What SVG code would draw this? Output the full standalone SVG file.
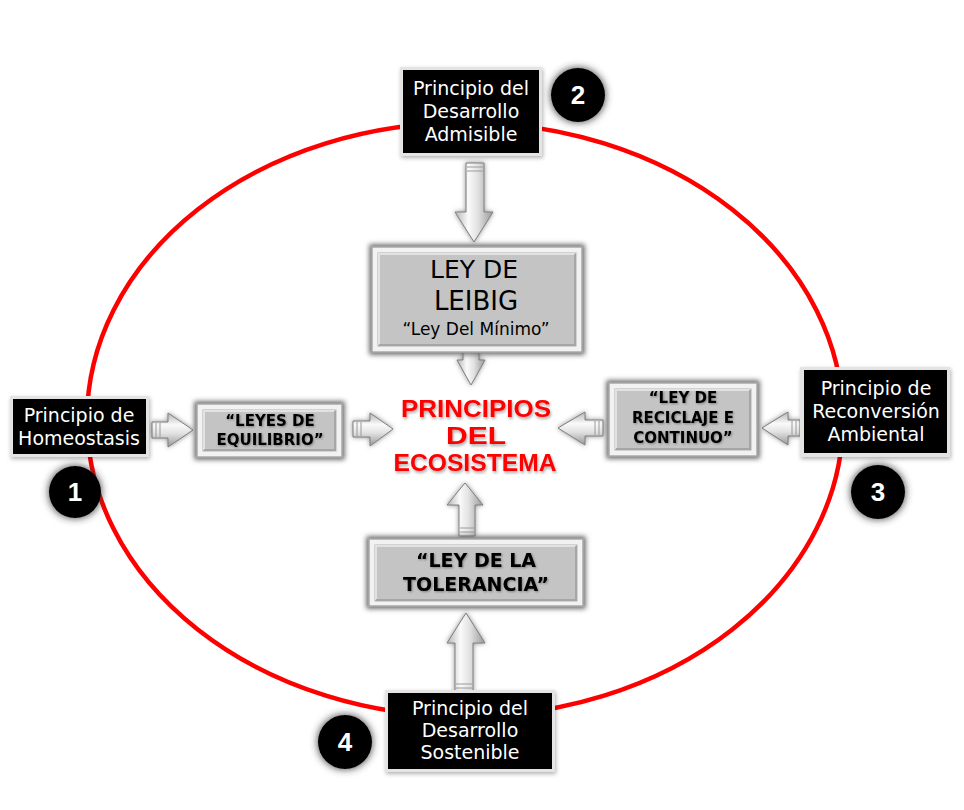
<svg xmlns="http://www.w3.org/2000/svg" width="964" height="810" viewBox="0 0 964 810">
<defs>
<style>
.bframe{fill:#e4e4e4;filter:url(#bshadow)}
.bin{fill:#000}
.wt{font-family:"DejaVu Sans",sans-serif;font-size:19px;fill:#fff;text-anchor:middle}
.gframe{fill:#f2f2f2;stroke:#a8a8a8;stroke-width:1.5;filter:url(#glow)}
.gpanel{fill:#c4c4c4;stroke:#b2b2b2;stroke-width:1}
.hl{fill:none;stroke:#e2e2e2;stroke-width:2}
.sh{fill:none;stroke:#a6a6a6;stroke-width:2}
.gt{font-family:"DejaVu Sans",sans-serif;font-weight:bold;fill:#000;text-anchor:middle;filter:url(#tshadow)}
.lt{font-family:"DejaVu Sans",sans-serif;fill:#000;text-anchor:middle}
.rt{font-family:"Liberation Sans",Arial,sans-serif;font-weight:bold;font-size:23px;fill:#ff0000;text-anchor:middle;filter:url(#rshadow)}
.num{fill:#000;filter:url(#cglow)}
.nt{font-family:"Liberation Sans",Arial,sans-serif;font-weight:bold;font-size:26px;fill:#fff;text-anchor:middle}
.av{fill:url(#gv);stroke:#808080;stroke-width:1;filter:url(#ashadow)}
.ah{fill:url(#gh);stroke:#808080;stroke-width:1;filter:url(#ashadow)}
.st{stroke:#9a9a9a;stroke-width:1}
</style>
<linearGradient id="gv" x1="0" y1="0" x2="1" y2="0">
<stop offset="0" stop-color="#b4b4b4"/><stop offset="0.35" stop-color="#fafafa"/><stop offset="0.6" stop-color="#e2e2e2"/><stop offset="1" stop-color="#989898"/>
</linearGradient>
<linearGradient id="gh" x1="0" y1="0" x2="0" y2="1">
<stop offset="0" stop-color="#b4b4b4"/><stop offset="0.35" stop-color="#fafafa"/><stop offset="0.6" stop-color="#e2e2e2"/><stop offset="1" stop-color="#989898"/>
</linearGradient>
<filter id="glow" x="-20%" y="-30%" width="140%" height="160%">
<feMorphology in="SourceAlpha" operator="dilate" radius="2" result="d"/>
<feGaussianBlur in="d" stdDeviation="2.5" result="b"/>
<feFlood flood-color="#6a6a6a"/>
<feComposite in2="b" operator="in" result="s"/>
<feMerge><feMergeNode in="s"/><feMergeNode in="SourceGraphic"/></feMerge>
</filter>
<filter id="bshadow" x="-20%" y="-20%" width="140%" height="140%">
<feDropShadow dx="1" dy="2" stdDeviation="2" flood-color="#000" flood-opacity="0.3"/>
</filter>
<filter id="cglow" x="-40%" y="-40%" width="180%" height="180%">
<feMorphology in="SourceAlpha" operator="dilate" radius="1" result="d"/>
<feGaussianBlur in="d" stdDeviation="3.5" result="b"/>
<feFlood flood-color="#333" flood-opacity="0.75"/>
<feComposite in2="b" operator="in" result="s"/>
<feMerge><feMergeNode in="s"/><feMergeNode in="SourceGraphic"/></feMerge>
</filter>
<filter id="ashadow" x="-30%" y="-30%" width="160%" height="160%">
<feGaussianBlur in="SourceAlpha" stdDeviation="2.5" result="b"/>
<feFlood flood-color="#777" flood-opacity="0.8"/>
<feComposite in2="b" operator="in" result="s"/>
<feMerge><feMergeNode in="s"/><feMergeNode in="SourceGraphic"/></feMerge>
</filter>
<filter id="rshadow" x="-10%" y="-20%" width="120%" height="150%">
<feDropShadow dx="1" dy="2" stdDeviation="1.5" flood-color="#000" flood-opacity="0.35"/>
</filter>
<filter id="tshadow" x="-10%" y="-20%" width="120%" height="150%">
<feDropShadow dx="1" dy="1" stdDeviation="0.8" flood-color="#000" flood-opacity="0.35"/>
</filter>
</defs>
<rect width="964" height="810" fill="#fff"/>

<ellipse id="cycle" cx="465" cy="419.5" rx="378" ry="297" fill="none" stroke="#ff0000" stroke-width="4.5"/>

<g id="connectors">
<path class="av" d="M466,163 H484 V212 H493 L474,242 L455,212 H466 Z"/>
<line class="st" x1="467" y1="167" x2="483" y2="167"/><line class="st" x1="467" y1="171" x2="483" y2="171"/>
<path class="av" d="M463,350 H479 V360 H485 L471,385 L457,360 H463 Z"/>
<path class="ah" d="M152,422 H168 V413 L193,430 L168,447 V438 H152 Z"/>
<line class="st" x1="156" y1="423" x2="156" y2="437"/><line class="st" x1="160" y1="423" x2="160" y2="437"/>
<path class="ah" d="M353,421 H370 V413 L393,429 L370,446 V437 H353 Z"/>
<line class="st" x1="357" y1="422" x2="357" y2="436"/><line class="st" x1="361" y1="422" x2="361" y2="436"/>
<path class="ah" d="M800,420 H788 V412 L762,428 L788,445 V436 H800 Z"/>
<line class="st" x1="796" y1="421" x2="796" y2="435"/><line class="st" x1="792" y1="421" x2="792" y2="435"/>
<path class="ah" d="M603,420 H585 V412 L558,428 L585,445 V436 H603 Z"/>
<line class="st" x1="599" y1="421" x2="599" y2="435"/><line class="st" x1="595" y1="421" x2="595" y2="435"/>
<path class="av" d="M459,536 V505 H447 L465,483 L483,505 H475 V536 Z"/>
<line class="st" x1="460" y1="532" x2="474" y2="532"/><line class="st" x1="460" y1="528" x2="474" y2="528"/>
<path class="av" d="M455,692 V643 H447 L466,613 L485,643 H473 V692 Z"/>
<line class="st" x1="456" y1="688" x2="472" y2="688"/><line class="st" x1="456" y1="684" x2="472" y2="684"/>
</g>

<g id="p2">
<rect class="bframe" x="400" y="67" width="142" height="89"/>
<rect class="bin" x="403" y="70" width="136" height="83"/>
<text class="wt" x="471" y="95">Principio del</text>
<text class="wt" x="471" y="118">Desarrollo</text>
<text class="wt" x="471" y="141">Admisible</text>
</g>
<g id="p1">
<rect class="bframe" x="10" y="396" width="139" height="61"/>
<rect class="bin" x="13" y="399" width="133" height="55"/>
<text class="wt" x="79" y="422">Principio de</text>
<text class="wt" x="79" y="445">Homeostasis</text>
</g>
<g id="p3">
<rect class="bframe" x="800" y="367" width="150" height="90"/>
<rect class="bin" x="804" y="370" width="143" height="83"/>
<text class="wt" x="876" y="395" font-size="18">Principio de</text>
<text class="wt" x="876" y="418" font-size="18">Reconversión</text>
<text class="wt" x="876" y="441" font-size="18">Ambiental</text>
</g>
<g id="p4">
<rect class="bframe" x="385" y="690" width="170" height="82"/>
<rect class="bin" x="388" y="693" width="164" height="76"/>
<text class="wt" x="470" y="715">Principio del</text>
<text class="wt" x="470" y="737">Desarrollo</text>
<text class="wt" x="470" y="759">Sostenible</text>
</g>

<g id="leibig">
<rect class="gframe" x="372" y="247" width="210" height="105"/>
<rect class="gpanel" x="378" y="253" width="198" height="93"/>
<polyline class="hl" points="379,345 379,254 575,254"/>
<polyline class="sh" points="379,345 575,345 575,254"/>
<text class="lt" x="474" y="278" font-size="25">LEY DE</text>
<text class="lt" x="476" y="310" font-size="26">LEIBIG</text>
<text class="lt" x="476" y="335" font-size="17">“Ley Del Mínimo”</text>
</g>
<g id="equilibrio">
<rect class="gframe" x="197" y="404" width="145" height="53"/>
<rect class="gpanel" x="203" y="410" width="133" height="41"/>
<polyline class="hl" points="204,450 204,411 335,411"/>
<polyline class="sh" points="204,450 335,450 335,411"/>
<text class="gt" x="270" y="426" font-size="15">“LEYES DE</text>
<text class="gt" x="270" y="445" font-size="15">EQUILIBRIO”</text>
</g>
<g id="reciclaje">
<rect class="gframe" x="609" y="383" width="148" height="73"/>
<rect class="gpanel" x="615" y="389" width="136" height="61"/>
<polyline class="hl" points="616,449 616,390 750,390"/>
<polyline class="sh" points="616,449 750,449 750,390"/>
<text class="gt" x="683" y="403" font-size="15">“LEY DE</text>
<text class="gt" x="683" y="423" font-size="15">RECICLAJE E</text>
<text class="gt" x="683" y="443" font-size="15">CONTINUO”</text>
</g>
<g id="tolerancia">
<rect class="gframe" x="369" y="539" width="214" height="67"/>
<rect class="gpanel" x="375" y="545" width="202" height="56"/>
<polyline class="hl" points="376,600 376,546 576,546"/>
<polyline class="sh" points="376,600 576,600 576,546"/>
<text class="gt" x="476" y="567" font-size="19">“LEY DE LA</text>
<text class="gt" x="476" y="591" font-size="19">TOLERANCIA”</text>
</g>

<g id="center">
<text class="rt" x="476" y="417" textLength="150" lengthAdjust="spacingAndGlyphs">PRINCIPIOS</text>
<text class="rt" x="476" y="444" textLength="60" lengthAdjust="spacingAndGlyphs">DEL</text>
<text class="rt" x="475" y="471" textLength="163" lengthAdjust="spacingAndGlyphs">ECOSISTEMA</text>
</g>

<g id="n1"><circle class="num" cx="75" cy="492" r="26"/><text class="nt" x="75" y="501">1</text></g>
<g id="n2"><circle class="num" cx="578" cy="95" r="27"/><text class="nt" x="578" y="104">2</text></g>
<g id="n3"><circle class="num" cx="878" cy="492" r="27"/><text class="nt" x="878" y="501">3</text></g>
<g id="n4"><circle class="num" cx="345" cy="742" r="27"/><text class="nt" x="345" y="751">4</text></g>
</svg>
